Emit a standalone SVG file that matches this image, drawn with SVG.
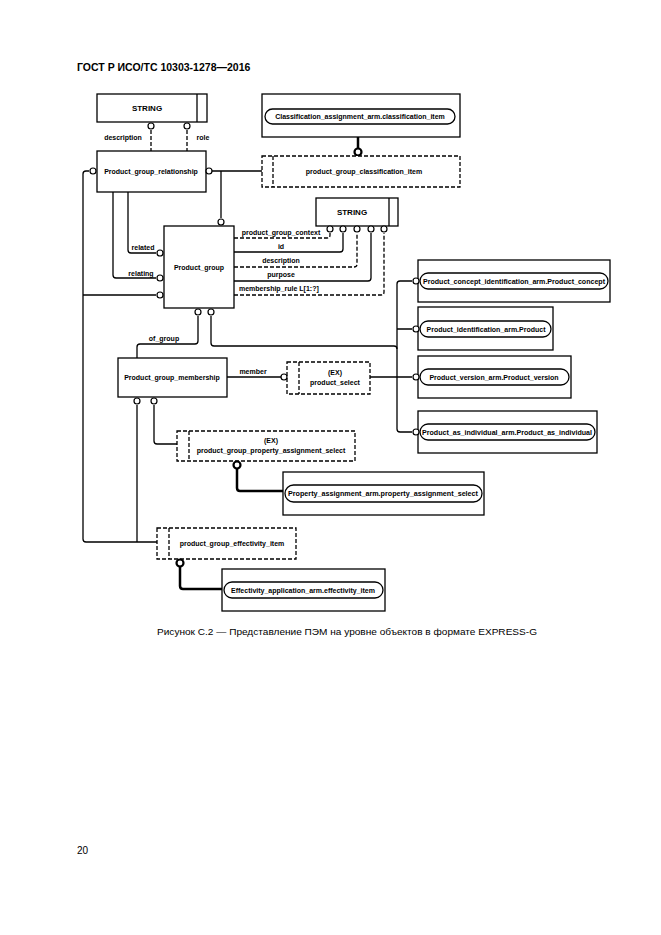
<svg xmlns="http://www.w3.org/2000/svg" width="661" height="935" viewBox="0 0 661 935">
<style>
.b{fill:#fff;stroke:#000;stroke-width:1.3}
.d{fill:#fff;stroke:#000;stroke-width:1.3;stroke-dasharray:4,2}
.l{fill:none;stroke:#000;stroke-width:1.3}
.ld{fill:none;stroke:#000;stroke-width:1.3;stroke-dasharray:4,2}
.tk{fill:none;stroke:#000;stroke-width:2.5}
.c{fill:#fff;stroke:#000;stroke-width:1.2}
.ct{fill:#fff;stroke:#000;stroke-width:2.2}
text{font-family:"Liberation Sans",Arial,sans-serif;font-size:7px;font-weight:bold;fill:#000}
.m{text-anchor:middle}
</style>
<rect width="661" height="935" fill="#fff"/>
<text x="77" y="71" style="font-size:10.5px">ГОСТ Р ИСО/ТС 10303-1278—2016</text>
<text x="157" y="635" style="font-size:9px;font-weight:normal" textLength="380" lengthAdjust="spacingAndGlyphs">Рисунок С.2 — Представление ПЭМ на уровне объектов в формате EXPRESS-G</text>
<text x="77" y="854" style="font-size:10px;font-weight:normal">20</text>

<g id="connectors">
<path class="ld" d="M151,130V151M187,130V151"/>
<path class="l" d="M209,171H262M221,171V218"/>
<path class="tk" d="M358,137V148"/>
<path class="ld" d="M234,238H327Q330,238 330,235V233"/>
<path class="l" d="M234,252H340Q343,252 343,249V233"/>
<path class="ld" d="M234,267H354Q357,267 357,264V233"/>
<path class="l" d="M234,281H368Q371,281 371,278V233"/>
<path class="ld" d="M234,295H381Q384,295 384,292V233"/>
<path class="l" d="M128,192V250Q128,253 131,253H156"/>
<path class="l" d="M113,192V275Q113,278 116,278H156"/>
<path class="l" d="M83,295H156"/>
<path class="l" d="M89,171H86Q83,171 83,174V539Q83,542 86,542H157"/>
<path class="l" d="M198,316V341Q198,344 195,344H140Q137,344 137,347V358"/>
<path class="l" d="M211,316V343Q211,346 214,346H394Q397,346 397,349"/>
<path class="l" d="M412,281H400Q397,281 397,284V429Q397,432 400,432H412M397,329H412M370,377H412"/>
<path class="l" d="M227,377H281"/>
<path class="l" d="M137,405V542"/>
<path class="l" d="M154,405V441Q154,444 157,444H177"/>
<path class="tk" d="M237,469V488Q237,491 240,491H283"/>
<path class="tk" d="M180,567V586Q180,589 183,589H222"/>
</g>

<g id="string1"><rect class="b" x="97" y="94" width="110" height="28"/><path class="l" d="M197,94V122"/><text x="147" y="111" class="m" style="font-size:8px">STRING</text>
<circle class="c" cx="151" cy="126" r="3"/><circle class="c" cx="187" cy="126" r="3"/></g>
<text x="123" y="140" class="m">description</text><text x="203" y="140" class="m">role</text>

<g id="pgr"><rect class="b" x="97" y="151" width="109" height="41"/><text x="151" y="174" class="m">Product_group_relationship</text>
<circle class="c" cx="93" cy="171" r="3"/><circle class="c" cx="209" cy="171" r="3"/></g>

<g id="cls"><rect class="b" x="262" y="94" width="198" height="43"/><rect class="b" x="265" y="109" width="190" height="15" rx="7.5"/><text x="360" y="119" class="m">Classification_assignment_arm.classification_item</text></g>
<circle class="ct" cx="358" cy="152" r="3.5"/>

<g id="pgci"><rect class="d" x="262" y="156" width="198" height="31"/><path class="ld" d="M273,156V187"/><text x="364" y="174" class="m">product_group_classification_item</text></g>

<g id="string2"><rect class="b" x="316" y="198" width="82" height="28"/><path class="l" d="M389,198V226"/><text x="352" y="215" class="m" style="font-size:8px">STRING</text>
<circle class="c" cx="330" cy="229" r="3"/><circle class="c" cx="343" cy="229" r="3"/><circle class="c" cx="357" cy="229" r="3"/><circle class="c" cx="371" cy="229" r="3"/><circle class="c" cx="384" cy="229" r="3"/></g>

<g id="pg"><rect class="b" x="164" y="226" width="70" height="82"/><text x="199" y="270" class="m">Product_group</text>
<circle class="c" cx="221" cy="222" r="3"/><circle class="c" cx="160" cy="253" r="3"/><circle class="c" cx="160" cy="278" r="3"/><circle class="c" cx="160" cy="295" r="3"/>
<circle class="c" cx="198" cy="312" r="3"/><circle class="c" cx="211" cy="312" r="3"/></g>
<text x="281" y="235" class="m">product_group_context</text>
<text x="281" y="249" class="m">id</text>
<text x="281" y="263" class="m">description</text>
<text x="281" y="277" class="m">purpose</text>
<text x="239" y="291">membership_rule L[1:?]</text>
<text x="143" y="250" class="m">related</text>
<text x="141" y="276" class="m">relating</text>
<text x="164" y="341" class="m">of_group</text>

<g id="pgm"><rect class="b" x="118" y="358" width="109" height="39"/><text x="172" y="380" class="m">Product_group_membership</text>
<circle class="c" cx="137" cy="401" r="3"/><circle class="c" cx="154" cy="401" r="3"/></g>
<text x="253" y="374" class="m">member</text>

<g id="ps"><rect class="d" x="287" y="362" width="83" height="32"/><path class="ld" d="M299,362V394"/><text x="335" y="375" class="m">(EX)</text><text x="335" y="385" class="m">product_select</text><circle class="c" cx="284" cy="377" r="3"/></g>

<g id="r1"><rect class="b" x="418" y="260" width="192" height="42"/><rect class="b" x="420" y="273" width="188" height="16" rx="8"/><text x="514" y="284" class="m" textLength="182" lengthAdjust="spacingAndGlyphs">Product_concept_identification_arm.Product_concept</text><circle class="c" cx="416" cy="281" r="3"/></g>
<g id="r2"><rect class="b" x="418" y="307" width="135" height="43"/><rect class="b" x="420" y="321" width="131" height="16" rx="8"/><text x="486" y="332" class="m">Product_identification_arm.Product</text><circle class="c" cx="416" cy="329" r="3"/></g>
<g id="r3"><rect class="b" x="418" y="356" width="153" height="42"/><rect class="b" x="420" y="369" width="149" height="16" rx="8"/><text x="494" y="380" class="m">Product_version_arm.Product_version</text><circle class="c" cx="416" cy="377" r="3"/></g>
<g id="r4"><rect class="b" x="418" y="411" width="179" height="42"/><rect class="b" x="420" y="424" width="175" height="16" rx="8"/><text x="507" y="435" class="m" textLength="170" lengthAdjust="spacingAndGlyphs">Product_as_individual_arm.Product_as_individual</text><circle class="c" cx="416" cy="432" r="3"/></g>

<g id="pgpas"><rect class="d" x="177" y="431" width="178" height="30"/><path class="ld" d="M189,431V461"/><text x="271" y="443" class="m">(EX)</text><text x="271" y="453" class="m">product_group_property_assignment_select</text></g>
<circle class="ct" cx="237" cy="465" r="3.5"/>

<g id="pas"><rect class="b" x="283" y="472" width="201" height="43"/><rect class="b" x="285" y="485" width="197" height="17" rx="8.5"/><text x="383" y="496" class="m" textLength="190" lengthAdjust="spacingAndGlyphs">Property_assignment_arm.property_assignment_select</text></g>

<g id="pgei"><rect class="d" x="157" y="528" width="139" height="31"/><path class="ld" d="M169,528V559"/><text x="232" y="546" class="m">product_group_effectivity_item</text></g>
<circle class="ct" cx="180" cy="563" r="3.5"/>

<g id="eff"><rect class="b" x="222" y="569" width="163" height="42"/><rect class="b" x="224" y="582" width="159" height="16" rx="8"/><text x="303" y="593" class="m">Effectivity_application_arm.effectivity_item</text></g>
</svg>
